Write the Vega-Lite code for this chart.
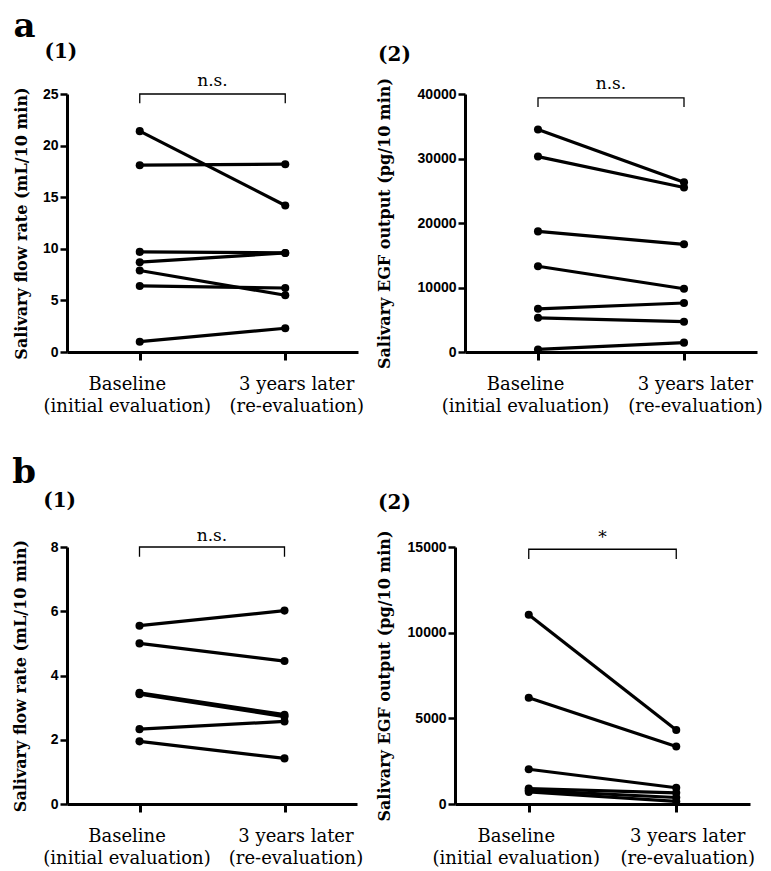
{
  "$schema": "https://vega.github.io/schema/vega-lite/v6.json",
  "background": "white",
  "padding": {"left": 12, "top": 10, "right": 5, "bottom": 0},
  "config": {
    "view": {"stroke": null},
    "font": "DejaVu Serif",
    "axis": {
      "grid": false,
      "domainColor": "black", "domainWidth": 3,
      "tickColor": "black", "tickWidth": 2.5, "tickSize": 7,
      "labelFont": "Liberation Sans",
      "labelFontWeight": "bold", "labelFontSize": 14, "labelColor": "black", "labelPadding": 2,
      "titleFont": "DejaVu Serif", "titleFontWeight": "bold", "titleFontSize": 16, "titleColor": "black"
    },
    "title": {"font": "DejaVu Serif", "fontWeight": "bold", "color": "black"}
  },
  "datasets": {
    "obs": [
      {"panel": "a1", "s": 1, "t": 0, "v": 21.4}, {"panel": "a1", "s": 1, "t": 1, "v": 14.2},
      {"panel": "a1", "s": 2, "t": 0, "v": 18.1}, {"panel": "a1", "s": 2, "t": 1, "v": 18.2},
      {"panel": "a1", "s": 3, "t": 0, "v": 9.7}, {"panel": "a1", "s": 3, "t": 1, "v": 9.6},
      {"panel": "a1", "s": 4, "t": 0, "v": 8.7}, {"panel": "a1", "s": 4, "t": 1, "v": 9.6},
      {"panel": "a1", "s": 5, "t": 0, "v": 7.9}, {"panel": "a1", "s": 5, "t": 1, "v": 5.5},
      {"panel": "a1", "s": 6, "t": 0, "v": 6.4}, {"panel": "a1", "s": 6, "t": 1, "v": 6.2},
      {"panel": "a1", "s": 7, "t": 0, "v": 1.0}, {"panel": "a1", "s": 7, "t": 1, "v": 2.3},
      {"panel": "a2", "s": 1, "t": 0, "v": 34500}, {"panel": "a2", "s": 1, "t": 1, "v": 26300},
      {"panel": "a2", "s": 2, "t": 0, "v": 30300}, {"panel": "a2", "s": 2, "t": 1, "v": 25500},
      {"panel": "a2", "s": 3, "t": 0, "v": 18700}, {"panel": "a2", "s": 3, "t": 1, "v": 16700},
      {"panel": "a2", "s": 4, "t": 0, "v": 13300}, {"panel": "a2", "s": 4, "t": 1, "v": 9800},
      {"panel": "a2", "s": 5, "t": 0, "v": 6700}, {"panel": "a2", "s": 5, "t": 1, "v": 7600},
      {"panel": "a2", "s": 6, "t": 0, "v": 5300}, {"panel": "a2", "s": 6, "t": 1, "v": 4700},
      {"panel": "a2", "s": 7, "t": 0, "v": 400}, {"panel": "a2", "s": 7, "t": 1, "v": 1450},
      {"panel": "b1", "s": 1, "t": 0, "v": 5.55}, {"panel": "b1", "s": 1, "t": 1, "v": 6.02},
      {"panel": "b1", "s": 2, "t": 0, "v": 5.0}, {"panel": "b1", "s": 2, "t": 1, "v": 4.45},
      {"panel": "b1", "s": 3, "t": 0, "v": 3.46}, {"panel": "b1", "s": 3, "t": 1, "v": 2.78},
      {"panel": "b1", "s": 4, "t": 0, "v": 3.42}, {"panel": "b1", "s": 4, "t": 1, "v": 2.72},
      {"panel": "b1", "s": 5, "t": 0, "v": 2.33}, {"panel": "b1", "s": 5, "t": 1, "v": 2.57},
      {"panel": "b1", "s": 6, "t": 0, "v": 1.95}, {"panel": "b1", "s": 6, "t": 1, "v": 1.42},
      {"panel": "b2", "s": 1, "t": 0, "v": 11050}, {"panel": "b2", "s": 1, "t": 1, "v": 4320},
      {"panel": "b2", "s": 2, "t": 0, "v": 6200}, {"panel": "b2", "s": 2, "t": 1, "v": 3360},
      {"panel": "b2", "s": 3, "t": 0, "v": 2030}, {"panel": "b2", "s": 3, "t": 1, "v": 950},
      {"panel": "b2", "s": 4, "t": 0, "v": 900}, {"panel": "b2", "s": 4, "t": 1, "v": 650},
      {"panel": "b2", "s": 5, "t": 0, "v": 800}, {"panel": "b2", "s": 5, "t": 1, "v": 380},
      {"panel": "b2", "s": 6, "t": 0, "v": 700}, {"panel": "b2", "s": 6, "t": 1, "v": 150}
    ],
    "brk": [
      {"panel": "a1", "o": 1, "t": 0, "v": 24.1}, {"panel": "a1", "o": 2, "t": 0, "v": 25},
      {"panel": "a1", "o": 3, "t": 1, "v": 25}, {"panel": "a1", "o": 4, "t": 1, "v": 24.1},
      {"panel": "a2", "o": 1, "t": 0, "v": 38000}, {"panel": "a2", "o": 2, "t": 0, "v": 39400},
      {"panel": "a2", "o": 3, "t": 1, "v": 39400}, {"panel": "a2", "o": 4, "t": 1, "v": 38000},
      {"panel": "b1", "o": 1, "t": 0, "v": 7.7}, {"panel": "b1", "o": 2, "t": 0, "v": 8},
      {"panel": "b1", "o": 3, "t": 1, "v": 8}, {"panel": "b1", "o": 4, "t": 1, "v": 7.7},
      {"panel": "b2", "o": 1, "t": 0, "v": 14300}, {"panel": "b2", "o": 2, "t": 0, "v": 14870},
      {"panel": "b2", "o": 3, "t": 1, "v": 14870}, {"panel": "b2", "o": 4, "t": 1, "v": 14300}
    ],
    "sig": [
      {"panel": "a1", "t": 0.5, "v": 25, "label": "n.s."},
      {"panel": "a2", "t": 0.5, "v": 39400, "label": "n.s."},
      {"panel": "b1", "t": 0.5, "v": 8, "label": "n.s."},
      {"panel": "b2", "t": 0.5, "v": 14870, "label": "*"}
    ]
  },
  "spacing": 41,
  "vconcat": [
    {
      "title": {"text": "a", "fontSize": 34, "anchor": "start", "offset": -2},
      "bounds": "flush",
      "spacing": 107,
      "hconcat": [
        {
          "width": 291, "height": 258,
          "title": {"text": "(1)", "fontSize": 20, "anchor": "start", "frame": "bounds", "dx": 31, "offset": 10},
          "encoding": {
            "x": {"field": "t", "type": "quantitative", "scale": {"domain": [-0.5, 1.5], "nice": false, "zero": false},
              "axis": {"values": [0, 1], "title": null, "tickSize": 8, "tickWidth": 3, "labelPadding": 15,
                "labelFont": "DejaVu Serif", "labelFontWeight": "normal", "labelFontSize": 18, "labelLineHeight": 22,
                "labelFlush": false, "labelOverlap": false,
                "labelOffset": {"condition": {"test": "datum.value == 0", "value": -13}, "value": 11},
                "labelExpr": "datum.value == 0 ? ['Baseline', '(initial evaluation)'] : ['3 years later', '(re-evaluation)']"}},
            "y": {"field": "v", "type": "quantitative", "scale": {"domain": [0, 25], "nice": false},
              "axis": {"values": [0, 5, 10, 15, 20, 25], "title": "Salivary flow rate (mL/10 min)", "titlePadding": 13}}
          },
          "layer": [
            {"data": {"name": "obs"}, "transform": [{"filter": "datum.panel == 'a1'"}],
             "mark": {"type": "line", "color": "black", "strokeWidth": 3.2}, "encoding": {"detail": {"field": "s"}}},
            {"data": {"name": "obs"}, "transform": [{"filter": "datum.panel == 'a1'"}],
             "mark": {"type": "circle", "color": "black", "size": 65, "opacity": 1}},
            {"data": {"name": "brk"}, "transform": [{"filter": "datum.panel == 'a1'"}],
             "mark": {"type": "line", "color": "black", "strokeWidth": 1.3}, "encoding": {"order": {"field": "o"}}},
            {"data": {"name": "sig"}, "transform": [{"filter": "datum.panel == 'a1'"}],
             "mark": {"type": "text", "font": "DejaVu Serif", "fontSize": 17, "color": "black", "baseline": "alphabetic", "dy": -8},
             "encoding": {"text": {"field": "label"}}}
          ]
        },
        {
          "width": 292, "height": 258,
          "title": {"text": "(2)", "fontSize": 20, "anchor": "start", "frame": "bounds", "dx": 2, "offset": 10},
          "encoding": {
            "x": {"field": "t", "type": "quantitative", "scale": {"domain": [-0.5, 1.5], "nice": false, "zero": false},
              "axis": {"values": [0, 1], "title": null, "tickSize": 8, "tickWidth": 3, "labelPadding": 15,
                "labelFont": "DejaVu Serif", "labelFontWeight": "normal", "labelFontSize": 18, "labelLineHeight": 22,
                "labelFlush": false, "labelOverlap": false,
                "labelOffset": {"condition": {"test": "datum.value == 0", "value": -13}, "value": 11},
                "labelExpr": "datum.value == 0 ? ['Baseline', '(initial evaluation)'] : ['3 years later', '(re-evaluation)']"}},
            "y": {"field": "v", "type": "quantitative", "scale": {"domain": [0, 40000], "nice": false},
              "axis": {"values": [0, 10000, 20000, 30000, 40000], "format": "d", "title": "Salivary EGF output (pg/10 min)", "titlePadding": 25}}
          },
          "layer": [
            {"data": {"name": "obs"}, "transform": [{"filter": "datum.panel == 'a2'"}],
             "mark": {"type": "line", "color": "black", "strokeWidth": 3.2}, "encoding": {"detail": {"field": "s"}}},
            {"data": {"name": "obs"}, "transform": [{"filter": "datum.panel == 'a2'"}],
             "mark": {"type": "circle", "color": "black", "size": 65, "opacity": 1}},
            {"data": {"name": "brk"}, "transform": [{"filter": "datum.panel == 'a2'"}],
             "mark": {"type": "line", "color": "black", "strokeWidth": 1.3}, "encoding": {"order": {"field": "o"}}},
            {"data": {"name": "sig"}, "transform": [{"filter": "datum.panel == 'a2'"}],
             "mark": {"type": "text", "font": "DejaVu Serif", "fontSize": 17, "color": "black", "baseline": "alphabetic", "dy": -9},
             "encoding": {"text": {"field": "label"}}}
          ]
        }
      ]
    },
    {
      "title": {"text": "b", "fontSize": 34, "anchor": "start", "offset": 1},
      "bounds": "flush",
      "spacing": 98,
      "hconcat": [
        {
          "width": 290, "height": 257,
          "title": {"text": "(1)", "fontSize": 20, "anchor": "start", "frame": "bounds", "dx": 31, "offset": 16},
          "encoding": {
            "x": {"field": "t", "type": "quantitative", "scale": {"domain": [-0.5, 1.5], "nice": false, "zero": false},
              "axis": {"values": [0, 1], "title": null, "tickSize": 8, "tickWidth": 3, "labelPadding": 15,
                "labelFont": "DejaVu Serif", "labelFontWeight": "normal", "labelFontSize": 18, "labelLineHeight": 22,
                "labelFlush": false, "labelOverlap": false,
                "labelOffset": {"condition": {"test": "datum.value == 0", "value": -13}, "value": 11},
                "labelExpr": "datum.value == 0 ? ['Baseline', '(initial evaluation)'] : ['3 years later', '(re-evaluation)']"}},
            "y": {"field": "v", "type": "quantitative", "scale": {"domain": [0, 8], "nice": false},
              "axis": {"values": [0, 2, 4, 6, 8], "title": "Salivary flow rate (mL/10 min)", "titlePadding": 22}}
          },
          "layer": [
            {"data": {"name": "obs"}, "transform": [{"filter": "datum.panel == 'b1'"}],
             "mark": {"type": "line", "color": "black", "strokeWidth": 3.2}, "encoding": {"detail": {"field": "s"}}},
            {"data": {"name": "obs"}, "transform": [{"filter": "datum.panel == 'b1'"}],
             "mark": {"type": "circle", "color": "black", "size": 65, "opacity": 1}},
            {"data": {"name": "brk"}, "transform": [{"filter": "datum.panel == 'b1'"}],
             "mark": {"type": "line", "color": "black", "strokeWidth": 1.3}, "encoding": {"order": {"field": "o"}}},
            {"data": {"name": "sig"}, "transform": [{"filter": "datum.panel == 'b1'"}],
             "mark": {"type": "text", "font": "DejaVu Serif", "fontSize": 17, "color": "black", "baseline": "alphabetic", "dy": -6},
             "encoding": {"text": {"field": "label"}}}
          ]
        },
        {
          "width": 295, "height": 257,
          "title": {"text": "(2)", "fontSize": 20, "anchor": "start", "frame": "bounds", "dx": 2, "offset": 16},
          "encoding": {
            "x": {"field": "t", "type": "quantitative", "scale": {"domain": [-0.5, 1.5], "nice": false, "zero": false},
              "axis": {"values": [0, 1], "title": null, "tickSize": 8, "tickWidth": 3, "labelPadding": 15,
                "labelFont": "DejaVu Serif", "labelFontWeight": "normal", "labelFontSize": 18, "labelLineHeight": 22,
                "labelFlush": false, "labelOverlap": false,
                "labelOffset": {"condition": {"test": "datum.value == 0", "value": -13}, "value": 11},
                "labelExpr": "datum.value == 0 ? ['Baseline', '(initial evaluation)'] : ['3 years later', '(re-evaluation)']"}},
            "y": {"field": "v", "type": "quantitative", "scale": {"domain": [0, 15000], "nice": false},
              "axis": {"values": [0, 5000, 10000, 15000], "format": "d", "title": "Salivary EGF output (pg/10 min)", "titlePadding": 15}}
          },
          "layer": [
            {"data": {"name": "obs"}, "transform": [{"filter": "datum.panel == 'b2'"}],
             "mark": {"type": "line", "color": "black", "strokeWidth": 3.2}, "encoding": {"detail": {"field": "s"}}},
            {"data": {"name": "obs"}, "transform": [{"filter": "datum.panel == 'b2'"}],
             "mark": {"type": "circle", "color": "black", "size": 65, "opacity": 1}},
            {"data": {"name": "brk"}, "transform": [{"filter": "datum.panel == 'b2'"}],
             "mark": {"type": "line", "color": "black", "strokeWidth": 1.3}, "encoding": {"order": {"field": "o"}}},
            {"data": {"name": "sig"}, "transform": [{"filter": "datum.panel == 'b2'"}],
             "mark": {"type": "text", "font": "DejaVu Serif", "fontSize": 17, "color": "black", "baseline": "alphabetic", "dy": -6},
             "encoding": {"text": {"field": "label"}}}
          ]
        }
      ]
    }
  ]
}
